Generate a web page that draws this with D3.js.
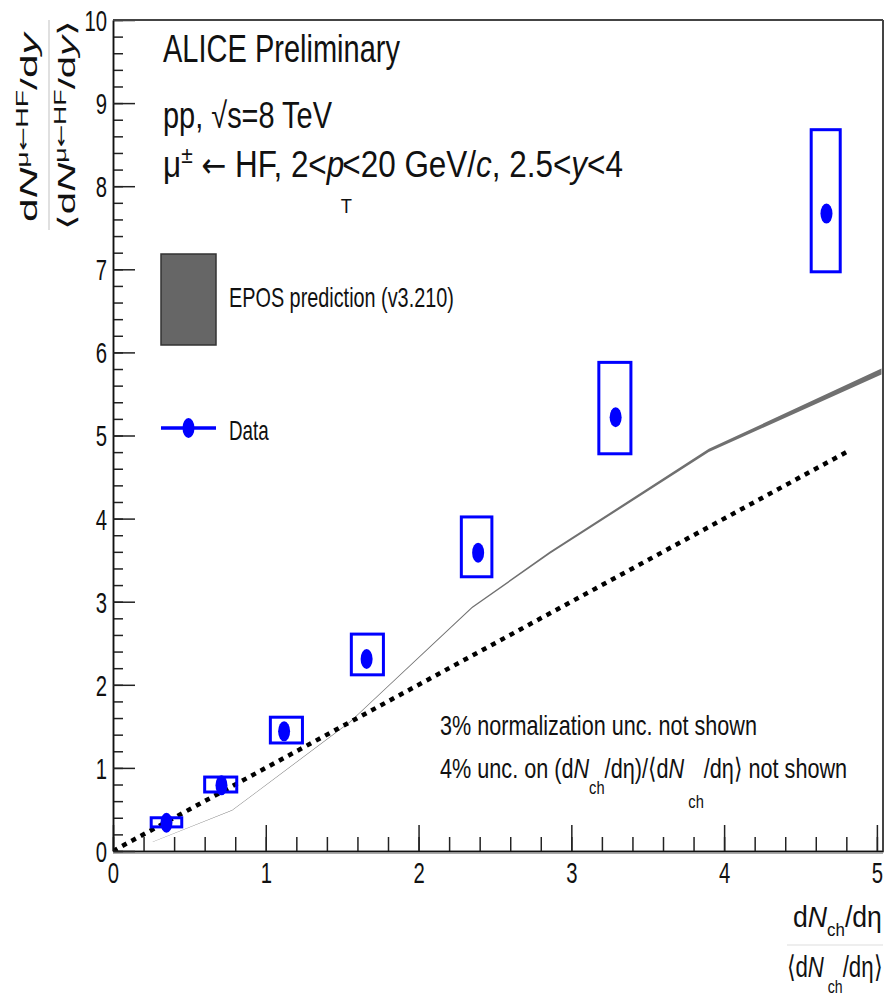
<!DOCTYPE html>
<html>
<head>
<meta charset="utf-8">
<script src="https://cdn.jsdelivr.net/npm/d3@7"></script>
<style>
  html, body { margin: 0; padding: 0; background: #fff; }
  svg { display: block; font-family: "Liberation Sans", Arial, Helvetica, sans-serif; }
</style>
</head>
<body>
<svg id="chart" width="891" height="998"></svg>
<script>
// values
const dataX  = [0.35, 0.71, 1.12, 1.66, 2.39, 3.29, 4.67];
const dataY  = [0.34, 0.79, 1.44, 2.31, 3.59, 5.22, 7.67];
const boxXLo = [0.25, 0.60, 1.03, 1.56, 2.28, 3.18, 4.57];
const boxXHi = [0.45, 0.81, 1.24, 1.77, 2.48, 3.39, 4.76];
const boxYLo = [0.29, 0.71, 1.30, 2.12, 3.30, 4.78, 6.97];
const boxYHi = [0.40, 0.89, 1.61, 2.61, 4.02, 5.88, 8.68];

// EPOS v3.210 band
const eposX  = [0.26, 0.78, 1.55, 2.35, 2.86, 3.90, 5.03];
const eposLo = [0.108, 0.488, 1.545, 2.921, 3.577, 4.800, 5.735];
const eposHi = [0.112, 0.492, 1.555, 2.939, 3.603, 4.840, 5.805];

// y = x reference (dotted)
const refX = [0, 4.8];
const refY = [0, 4.8];

const xMajor = [0, 1, 2, 3, 4, 5];
const yMajor = [0, 1, 2, 3, 4, 5, 6, 7, 8, 9, 10];

const svg = d3.select("#chart");

const x = d3.scaleLinear().domain([0, 5.04]).range([113, 883]);
const y = d3.scaleLinear().domain([0, 10]).range([851, 20]);

svg.append("defs").append("clipPath").attr("id", "plot")
    .append("rect")
    .attr("x", x.range()[0]).attr("y", y.range()[1])
    .attr("width", x.range()[1] - x.range()[0])
    .attr("height", y.range()[0] - y.range()[1]);

const plot = svg.append("g").attr("clip-path", "url(#plot)");

// EPOS band
const eposRows = eposX.map((v, i) => ({ x: v, lo: eposLo[i], hi: eposHi[i] }));
plot.append("path")
    .datum(eposRows)
    .attr("fill", "#707070")
    .attr("d", d3.area().x(d => x(d.x)).y0(d => y(d.lo)).y1(d => y(d.hi)));

// dotted reference
plot.append("path")
    .datum(refX.map((v, i) => [v, refY[i]]))
    .attr("fill", "none")
    .attr("stroke", "#000")
    .attr("stroke-width", 4.5)
    .attr("stroke-dasharray", "5,5.5")
    .attr("d", d3.line().x(d => x(d[0])).y(d => y(d[1])));

// systematic boxes
const rows = dataX.map((v, i) => ({
    x: v, y: dataY[i], x0: boxXLo[i], x1: boxXHi[i], y0: boxYLo[i], y1: boxYHi[i]
}));

plot.selectAll(".box")
    .data(rows)
    .join("rect")
    .attr("class", "box")
    .attr("x", d => x(d.x0))
    .attr("y", d => y(d.y1))
    .attr("width", d => x(d.x1) - x(d.x0))
    .attr("height", d => y(d.y0) - y(d.y1))
    .attr("fill", "none")
    .attr("stroke", "#0000ff")
    .attr("stroke-width", 3);

plot.selectAll(".pt")
    .data(rows)
    .join("ellipse")
    .attr("class", "pt")
    .attr("cx", d => x(d.x))
    .attr("cy", d => y(d.y))
    .attr("rx", 6)
    .attr("ry", 10)
    .attr("fill", "#0000ff");

// axes
function styleAxis(g) {
    g.selectAll("path.domain").attr("stroke", "#111").attr("stroke-width", 1.5);
    g.selectAll(".tick line").attr("stroke", "#222").attr("stroke-width", 1.5);
}

svg.append("g")
    .attr("transform", `translate(0,${y(0)})`)
    .call(d3.axisBottom(x).ticks(25).tickSizeInner(-14).tickSizeOuter(0).tickFormat(""))
    .call(styleAxis);

const xAx = svg.append("g")
    .attr("transform", `translate(0,${y(0)})`)
    .call(d3.axisBottom(x).tickValues(xMajor).tickSizeInner(-26).tickSizeOuter(0).tickFormat(d3.format("d")))
    .call(styleAxis);
xAx.selectAll("text")
    .attr("font-size", 29)
    .attr("font-family", null)
    .attr("fill", "#111")
    .attr("y", 32).attr("dy", 0)
    .attr("transform", "scale(0.7,1)");

svg.append("g")
    .attr("transform", `translate(${x(0)},0)`)
    .call(d3.axisLeft(y).ticks(50).tickSizeInner(-10).tickSizeOuter(0).tickFormat(""))
    .call(styleAxis);

const yAx = svg.append("g")
    .attr("transform", `translate(${x(0)},0)`)
    .call(d3.axisLeft(y).tickValues(yMajor).tickSizeInner(-22).tickSizeOuter(0).tickFormat(d3.format("d")))
    .call(styleAxis);
yAx.selectAll("text")
    .attr("font-size", 29)
    .attr("font-family", null)
    .attr("fill", "#111")
    .attr("x", -6 / 0.7).attr("dy", "0.36em")
    .attr("transform", "scale(0.7,1)");

// frame top / right, and light line under x axis
svg.append("line").attr("x1", x.range()[0]).attr("x2", x.range()[1])
    .attr("y1", y.range()[1]).attr("y2", y.range()[1])
    .attr("stroke", "#444").attr("stroke-width", 2);
svg.append("line").attr("x1", x.range()[1]).attr("x2", x.range()[1])
    .attr("y1", y.range()[1]).attr("y2", y.range()[0])
    .attr("stroke", "#444").attr("stroke-width", 2);
svg.append("line").attr("x1", x.range()[0]).attr("x2", x.range()[1])
    .attr("y1", y(0) + 2.5).attr("y2", y(0) + 2.5)
    .attr("stroke", "#aaa").attr("stroke-width", 1);

// text helpers: condensed look of the original is matched by a horizontal scale
function placeText(px, py, width, size, build) {
    const g = svg.append("g");
    const t = g.append("text").attr("font-size", size).attr("fill", "#111");
    build(t);
    const b = t.node().getBBox();
    const s = width / b.width;
    g.attr("transform", `translate(${px - b.x * s},${py}) scale(${s},1)`);
    return g;
}

function placeRotated(px, cy, length, size, cross, build) {
    const g = svg.append("g");
    const t = g.append("text").attr("font-size", size).attr("fill", "#111").attr("text-anchor", "middle");
    build(t);
    const b = t.node().getBBox();
    const s = length / b.width;
    g.attr("transform", `translate(${px},${cy}) rotate(-90) scale(${s},${cross}) translate(${-(b.x + b.width / 2)},0)`);
    return g;
}

function span(t, txt, opts = {}) {
    const s = t.append("tspan").text(txt);
    if (opts.italic) s.attr("font-style", "italic");
    if (opts.size) s.attr("font-size", opts.size);
    if (opts.family) s.attr("font-family", opts.family);
    if (opts.dy) s.attr("dy", opts.dy);
    if (opts.dx) s.attr("dx", opts.dx);
    return s;
}

// header
placeText(163, 62, 237, 38, t => span(t, "ALICE Preliminary"));
placeText(163, 128, 169, 36, t => span(t, "pp, √s=8 TeV"));
placeText(163, 177, 460, 36, t => {
    span(t, "μ");
    span(t, "±", { size: 24, dy: -14 });
    span(t, " ", { dy: 14 });
    span(t, "←", { family: "DejaVu Sans", size: 34 });
    span(t, " HF, 2<");
    span(t, "p", { italic: true });
    span(t, "T", { size: 21, dy: 36, dx: -4 });
    span(t, "<20 GeV/", { dy: -36, dx: -11 });
    span(t, "c", { italic: true });
    span(t, ", 2.5<");
    span(t, "y", { italic: true });
    span(t, "<4");
});

// legend
svg.append("rect")
    .attr("x", 161).attr("y", 254).attr("width", 55).attr("height", 91)
    .attr("fill", "#666").attr("stroke", "#333").attr("stroke-width", 1.5);
placeText(229, 307, 225, 28, t => span(t, "EPOS prediction (v3.210)"));

svg.append("line")
    .attr("x1", 161).attr("x2", 216).attr("y1", 428).attr("y2", 428)
    .attr("stroke", "#0000ff").attr("stroke-width", 3.5);
svg.append("ellipse")
    .attr("cx", 188.5).attr("cy", 428).attr("rx", 6).attr("ry", 10)
    .attr("fill", "#0000ff");
placeText(229, 440, 40, 28, t => span(t, "Data"));

// notes
placeText(440, 735, 317, 28, t => span(t, "3% normalization unc. not shown"));
placeText(440, 778, 407, 28, t => {
    span(t, "4% unc. on (d");
    span(t, "N", { italic: true });
    span(t, "ch", { size: 19, dy: 16 });
    span(t, "/dη)/⟨d", { dy: -16 });
    span(t, "N", { italic: true });
    span(t, " ch", { size: 19, dy: 30 });
    span(t, "/dη⟩ not shown", { dy: -30 });
});

// x axis title
placeText(793, 927, 89, 30, t => {
    span(t, "d");
    span(t, "N", { italic: true });
    span(t, "ch", { size: 19, dy: 9 });
    span(t, "/dη", { dy: -9 });
});
svg.append("line").attr("x1", 787).attr("x2", 883).attr("y1", 945).attr("y2", 945)
    .attr("stroke", "#ddd").attr("stroke-width", 1.2);
placeText(787, 977, 96, 30, t => {
    span(t, "⟨d");
    span(t, "N", { italic: true });
    span(t, " ch", { size: 19, dy: 16 });
    span(t, "/dη⟩", { dy: -16 });
});

// y axis title
function yTitle(t, brackets) {
    if (brackets) span(t, "⟨");
    span(t, "d");
    span(t, "N", { italic: true });
    span(t, "μ", { size: 22, dy: -12 });
    span(t, "←", { size: 22, family: "DejaVu Sans" });
    span(t, "HF", { size: 22 });
    span(t, "/d", { dy: 12 });
    span(t, "y", { italic: true });
    if (brackets) span(t, "⟩");
}
placeRotated(37, 126, 192, 33, 0.72, t => yTitle(t, false));
svg.append("line").attr("x1", 49).attr("x2", 49).attr("y1", 20).attr("y2", 230)
    .attr("stroke", "#ccc").attr("stroke-width", 1.2);
placeRotated(75, 125, 210, 33, 0.72, t => yTitle(t, true));
</script>
</body>
</html>
